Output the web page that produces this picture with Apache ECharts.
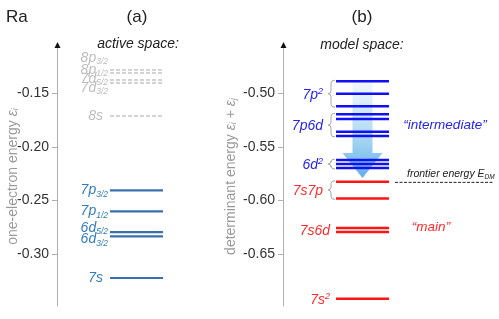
<!DOCTYPE html>
<html><head><meta charset="utf-8">
<script src="https://cdn.jsdelivr.net/npm/echarts@6/dist/echarts.min.js"></script>
<style>html,body{margin:0;padding:0;background:#fff}#c{width:499px;height:319px}</style>
</head><body><div id="c"></div>
<script>
// ---------- data ----------
const leftTicks = [-0.30, -0.25, -0.20, -0.15];
const rightTicks = [-0.65, -0.60, -0.55, -0.50];

const occupiedLevels = [-0.2404, -0.2600, -0.2793, -0.2833, -0.3221];
const occupiedLabels = ['7p_3/2', '7p_1/2', '6d_5/2', '6d_3/2', '7s'];

const virtualLevels = [-0.1283, -0.1311, -0.1376, -0.1404, -0.1712];
const virtualLabels = ['8p_3/2', '8p_1/2', '7d_5/2', '7d_3/2', '8s'];

const groupNames = ['7p^2', '7p6d', '6d^2', '7s7p', '7s6d', '7s^2'];
const groupLevels = [
  [-0.4888, -0.5004, -0.5121],
  [-0.5196, -0.5240, -0.5358, -0.5398],
  [-0.5622, -0.5659, -0.5697],
  [-0.5824, -0.5980],
  [-0.6255, -0.6293],
  [-0.6915]
];
const groupKind = ['intermediate', 'intermediate', 'intermediate', 'main', 'main', 'main'];
const groupBrace = [true, true, true, true, false, false];
const frontierEnergy = -0.5830;
const spaceNames = ['“intermediate”', '“main”'];
const spaceEnergy = [-0.5296, -0.6245];
const arrowSpan = [-0.4880, -0.5556, -0.5789]; // top, head base, tip
const leftRange = [-0.3482, -0.1069];
const rightRange = [-0.6982, -0.4569];

// ---------- style ----------
const FONT = 'Liberation Sans, Arial, sans-serif';
const X0 = 53, X1 = 106;           // level line extent (x-axis units)
const occupiedDy = [0, 0, -4, 3, 0];
const virtualDy = [-12, -3, -1, 5, 0];
const C_OCC_LINE = '#3b6fae', C_OCC_TXT = '#2e7cbd';
const C_VIR_LINE = '#c6c6c6', C_VIR_TXT = '#bdbdbd';
const C_INT_LINE = '#1010f2', C_INT_TXT = '#2424ee';
const C_MAIN_LINE = '#ff1414', C_MAIN_TXT = '#ff2a2a';

function richText(label) {
  const m = label.match(/^([^_^]+)(?:([_^])(.+))?$/);
  if (!m[2]) return '{m|' + m[1] + '}';
  return '{m|' + m[1] + '}{' + (m[2] === '_' ? 'sub' : 'sup') + '|' + m[3] + '}';
}
function richStyle(color, size) {
  return {
    m: {fontSize: size, fontStyle: 'italic', fontFamily: FONT, fill: color, lineHeight: 17},
    sub: {fontSize: 8.5, fontStyle: 'italic', fontFamily: FONT, fill: color, lineHeight: 9, verticalAlign: 'bottom'},
    sup: {fontSize: 9, fontStyle: 'italic', fontFamily: FONT, fill: color, lineHeight: 9, verticalAlign: 'top'}
  };
}

function levelSeries(gi, values, color, width, dash, z) {
  return {
    type: 'custom', xAxisIndex: gi, yAxisIndex: gi, silent: true, z: z || 3,
    data: values.map(v => [X0, v]), encode: {x: 0, y: 1},
    renderItem(params, api) {
      const v = api.value(1);
      const a = api.coord([X0, v]), b = api.coord([X1, v]);
      return {type: 'line', shape: {x1: a[0], y1: a[1], x2: b[0], y2: b[1]},
        style: {stroke: color, lineWidth: width, lineDash: dash || null}};
    }
  };
}
function labelSeries(gi, values, labels, dys, color, size, gapFn) {
  return {
    type: 'custom', xAxisIndex: gi, yAxisIndex: gi, silent: true, z: 4,
    data: values.map(v => [X0, v]), encode: {x: 0, y: 1},
    renderItem(params, api) {
      const i = params.dataIndex;
      const p = api.coord([X0, api.value(1)]);
      return {type: 'text', x: p[0] - gapFn(i), y: p[1] + (dys ? dys[i] : 0),
        style: {text: richText(labels[i]), rich: richStyle(color, size),
          align: 'right', verticalAlign: 'middle', fill: color}};
    }
  };
}

const intLevels = [], mainLevels = [];
groupLevels.forEach((g, i) => (groupKind[i] === 'main' ? mainLevels : intLevels).push(...g));
const groupMid = groupLevels.map(g => (Math.max(...g) + Math.min(...g)) / 2);

const series = [
  levelSeries(0, virtualLevels, C_VIR_LINE, 1.5, [4, 2]),
  levelSeries(0, occupiedLevels, C_OCC_LINE, 2.2),
  labelSeries(0, virtualLevels, virtualLabels, virtualDy, C_VIR_TXT, 14,
    i => virtualLabels[i].includes('_') ? 2 : 7),
  labelSeries(0, occupiedLevels, occupiedLabels, occupiedDy, C_OCC_TXT, 14,
    i => occupiedLabels[i].includes('_') ? 2 : 7),
  // arrow
  {
    type: 'custom', xAxisIndex: 1, yAxisIndex: 1, silent: true, z: 2,
    data: [[X0, arrowSpan[0], arrowSpan[1], arrowSpan[2]]], encode: {x: 0, y: 1},
    renderItem(params, api) {
      const cx = (api.coord([X0, 0])[0] + api.coord([X1, 0])[0]) / 2;
      const yt = api.coord([X0, api.value(1)])[1];
      const yb = api.coord([X0, api.value(2)])[1];
      const yp = api.coord([X0, api.value(3)])[1];
      return {type: 'polygon', shape: {points: [
        [cx - 10, yt], [cx + 10, yt], [cx + 10, yb], [cx + 20, yb], [cx, yp],
        [cx - 20, yb], [cx - 10, yb]]},
        style: {fill: new echarts.graphic.LinearGradient(0, 0, 0, 1, [
          {offset: 0, color: 'rgba(235,246,253,0.6)'},
          {offset: 0.55, color: 'rgba(160,210,242,0.85)'},
          {offset: 1, color: 'rgba(88,172,232,0.95)'}])}};
    }
  },
  levelSeries(1, intLevels, C_INT_LINE, 2.6),
  levelSeries(1, mainLevels, C_MAIN_LINE, 2.6),
  // braces
  {
    type: 'custom', xAxisIndex: 1, yAxisIndex: 1, silent: true, z: 3,
    data: groupLevels.map((g, i) => [X0, Math.max(...g), Math.min(...g)]).filter((d, i) => groupBrace[i]),
    encode: {x: 0, y: 1},
    renderItem(params, api) {
      const p1 = api.coord([X0, api.value(1)]), p2 = api.coord([X0, api.value(2)]);
      const y1 = p1[1] - 1, y2 = p2[1] + 1, m = (y1 + y2) / 2;
      const xe = p1[0] - 1, xv = p1[0] - 5, xt = p1[0] - 8;
      const st = {stroke: '#a8a8a8', lineWidth: 1, fill: null};
      const q = (x1, yy1, cx, cy, x2, yy2) => ({type: 'bezierCurve',
        shape: {x1: x1, y1: yy1, cpx1: cx, cpy1: cy, x2: x2, y2: yy2}, style: st});
      const l = (x1, yy1, x2, yy2) => ({type: 'line', shape: {x1: x1, y1: yy1, x2: x2, y2: yy2}, style: st});
      return {type: 'group', children: [
        q(xe, y1, xv, y1, xv, y1 + 3), l(xv, y1 + 3, xv, m - 3),
        q(xv, m - 3, xv, m, xt, m), q(xt, m, xv, m, xv, m + 3),
        l(xv, m + 3, xv, y2 - 3), q(xv, y2 - 3, xv, y2, xe, y2)]};
    }
  },
  // group labels
  {
    type: 'custom', xAxisIndex: 1, yAxisIndex: 1, silent: true, z: 4,
    data: groupMid.map(v => [X0, v]), encode: {x: 0, y: 1},
    renderItem(params, api) {
      const i = params.dataIndex;
      const p = api.coord([X0, api.value(1)]);
      const col = groupKind[i] === 'main' ? C_MAIN_TXT : C_INT_TXT;
      return {type: 'text', x: p[0] - (groupBrace[i] ? 13 : 6), y: p[1] + (groupNames[i].includes('^') ? 1.5 : 1),
        style: {text: richText(groupNames[i]), rich: richStyle(col, 14),
          align: 'right', verticalAlign: 'middle', fill: col}};
    }
  },
  // space names
  {
    type: 'custom', xAxisIndex: 1, yAxisIndex: 1, silent: true, z: 4,
    data: spaceEnergy.map(v => [162, v]), encode: {x: 0, y: 1},
    renderItem(params, api) {
      const i = params.dataIndex;
      const p = api.coord([i === 0 ? 162 : 148, api.value(1)]);
      const col = i === 0 ? C_INT_TXT : C_MAIN_TXT;
      return {type: 'text', x: p[0], y: p[1],
        style: {text: spaceNames[i], align: 'center', verticalAlign: 'middle', fill: col,
          fontSize: 13.5, fontStyle: 'italic', fontFamily: FONT}};
    }
  },
  // frontier energy
  {
    type: 'custom', xAxisIndex: 1, yAxisIndex: 1, silent: true, z: 4,
    data: [[112, frontierEnergy]], encode: {x: 0, y: 1},
    renderItem(params, api) {
      const a = api.coord([112, api.value(1)]), b = api.coord([210, api.value(1)]);
      return {type: 'group', children: [
        {type: 'line', shape: {x1: a[0], y1: a[1], x2: b[0], y2: b[1]},
          style: {stroke: '#222', lineWidth: 1, lineDash: [3, 1.5]}},
        {type: 'text', x: a[0] + 12, y: a[1] - 8,
          style: {text: '{t|frontier energy E}{s|DM}', align: 'left', verticalAlign: 'middle',
            rich: {t: {fontSize: 10.5, fontStyle: 'italic', fontFamily: FONT, fill: '#222', lineHeight: 13},
                   s: {fontSize: 6.5, fontStyle: 'italic', fontFamily: FONT, fill: '#222', lineHeight: 7, verticalAlign: 'bottom'}}}}
      ]};
    }
  }
];

function yAxis(gi, range, ticks, nameRich, gap) {
  return {
    type: 'value', gridIndex: gi, min: range[0], max: range[1],
    name: nameRich, nameLocation: 'middle', nameGap: gap, nameRotate: 90, nameMoveOverlap: false,
    nameTextStyle: {color: '#9a9a9a', fontSize: 14, fontFamily: FONT,
      rich: {n: {color: '#9a9a9a', fontSize: 14, fontFamily: FONT},
             e: {color: '#9a9a9a', fontSize: 14, fontStyle: 'italic', fontFamily: FONT},
             i: {color: '#9a9a9a', fontSize: 9, fontStyle: 'italic', fontFamily: FONT, verticalAlign: 'bottom', lineHeight: 9}}},
    axisLine: {show: true, lineStyle: {color: '#b0b0b0', width: 1}},
    axisTick: {show: true, length: 5, lineStyle: {color: '#b0b0b0'}, customValues: ticks},
    axisLabel: {color: '#333', fontSize: 14, fontFamily: FONT, margin: 8, customValues: ticks,
      formatter: v => v.toFixed(2)},
    splitLine: {show: false}
  };
}

const chart = echarts.init(document.getElementById('c'), null, {renderer: 'canvas'});
const baseGraphic = [
  {type: 'text', left: 6, top: 9, style: {text: 'Ra', fontSize: 17, fontFamily: FONT, fill: '#222'}},
  {type: 'text', x: 137, y: 17, style: {text: '(a)', fontSize: 17, fontFamily: FONT, fill: '#222', align: 'center', verticalAlign: 'middle'}},
  {type: 'text', x: 362, y: 17, style: {text: '(b)', fontSize: 17, fontFamily: FONT, fill: '#222', align: 'center', verticalAlign: 'middle'}},
  {type: 'text', x: 138, y: 44, style: {text: 'active space:', fontSize: 14, fontStyle: 'italic', fontFamily: FONT, fill: '#222', align: 'center', verticalAlign: 'middle'}},
  {type: 'text', x: 362, y: 45, style: {text: 'model space:', fontSize: 14, fontStyle: 'italic', fontFamily: FONT, fill: '#222', align: 'center', verticalAlign: 'middle'}}
];
chart.setOption({
  animation: false,
  backgroundColor: '#fff',
  grid: [
    {left: 57, top: 47, width: 210, bottom: 13},
    {left: 283, top: 47, width: 210, bottom: 13}
  ],
  xAxis: [
    {type: 'value', gridIndex: 0, min: 0, max: 210, show: false},
    {type: 'value', gridIndex: 1, min: 0, max: 210, show: false}
  ],
  yAxis: [
    yAxis(0, leftRange, leftTicks, '{n|one-electron energy }{e|ε}{i|i}', 37),
    yAxis(1, rightRange, rightTicks, '{n|determinant energy }{e|ε}{i|i}{n| + }{e|ε}{i|j}', 45)
  ],
  graphic: baseGraphic,
  series: series
});
// black arrowheads at the top of both axes
const heads = [[0, leftRange[1]], [1, rightRange[1]]].map(([gi, top]) => {
  const p = chart.convertToPixel({xAxisIndex: gi, yAxisIndex: gi}, [0, top]);
  const x = Math.round(p[0]) + 0.5;
  return {type: 'polygon', shape: {points: [[x, p[1] - 5], [x - 3, p[1] + 1], [x + 3, p[1] + 1]]},
    style: {fill: '#111'}, z: 10};
});
chart.setOption({graphic: baseGraphic.concat(heads)});
</script></body></html>
